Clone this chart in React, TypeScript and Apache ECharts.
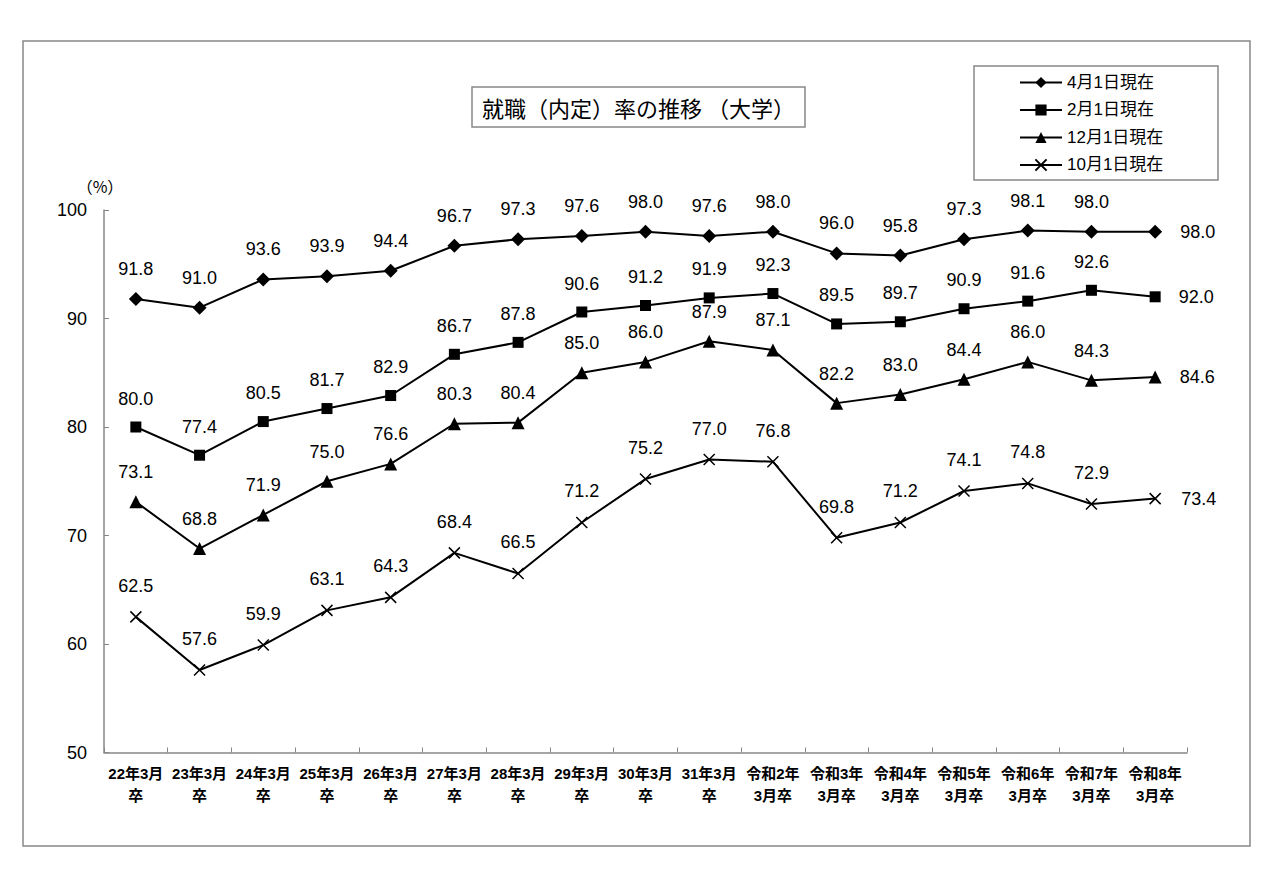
import { useEffect, useRef } from 'react'
import * as echarts from 'echarts'

const categories = [
  '22年3月\n卒', '23年3月\n卒', '24年3月\n卒', '25年3月\n卒', '26年3月\n卒',
  '27年3月\n卒', '28年3月\n卒', '29年3月\n卒', '30年3月\n卒', '31年3月\n卒',
  '令和2年\n3月卒', '令和3年\n3月卒', '令和4年\n3月卒', '令和5年\n3月卒',
  '令和6年\n3月卒', '令和7年\n3月卒', '令和8年\n3月卒'
]

const seriesNames = ['4月1日現在', '2月1日現在', '12月1日現在', '10月1日現在']

const apr1 = [91.8, 91.0, 93.6, 93.9, 94.4, 96.7, 97.3, 97.6, 98.0, 97.6, 98.0, 96.0, 95.8, 97.3, 98.1, 98.0, 98.0]
const feb1 = [80.0, 77.4, 80.5, 81.7, 82.9, 86.7, 87.8, 90.6, 91.2, 91.9, 92.3, 89.5, 89.7, 90.9, 91.6, 92.6, 92.0]
const dec1 = [73.1, 68.8, 71.9, 75.0, 76.6, 80.3, 80.4, 85.0, 86.0, 87.9, 87.1, 82.2, 83.0, 84.4, 86.0, 84.3, 84.6]
const oct1 = [62.5, 57.6, 59.9, 63.1, 64.3, 68.4, 66.5, 71.2, 75.2, 77.0, 76.8, 69.8, 71.2, 74.1, 74.8, 72.9, 73.4]

const yTicks = { min: 50, max: 100, interval: 10 }

const FONT = 'Arial, "Liberation Sans", "Noto Sans CJK JP", sans-serif'
const CROSS = 'path://M0,0L10,10M10,0L0,10'

export default function App() {
  const chartRef = useRef<HTMLDivElement>(null)

  useEffect(() => {
    if (!chartRef.current) return
    document.body.style.margin = '0'
    const chart = echarts.init(chartRef.current, undefined, { renderer: 'svg' })

    // 最終点のラベルは右側に
    const toData = (values: number[]) =>
      values.map((v, i) =>
        i === values.length - 1
          ? { value: v, label: { position: 'right', distance: 18 } }
          : v
      )

    const symbols = [
      { symbol: 'diamond', size: 14 },
      { symbol: 'rect', size: 11 },
      { symbol: 'triangle', size: 13 },
      { symbol: CROSS, size: 11 }
    ]
    const allValues = [apr1, feb1, dec1, oct1]

    const series = seriesNames.map((name, idx) => ({
      name,
      type: 'line',
      data: toData(allValues[idx]),
      symbol: symbols[idx].symbol,
      symbolSize: symbols[idx].size,
      lineStyle: { color: '#000', width: 2 },
      itemStyle:
        idx === 3
          ? { color: 'none', borderColor: '#000', borderWidth: 1.5 }
          : { color: '#000' },
      label: {
        show: true,
        position: 'top',
        distance: 14,
        formatter: (p: any) => Number(p.value).toFixed(1),
        color: '#000',
        fontSize: 18,
        fontFamily: FONT
      }
    }))

    const option: any = {
      animation: false,
      backgroundColor: '#fff',
      textStyle: { fontFamily: FONT },
      grid: { left: 104, top: 210, right: 93, bottom: 136.5 },
      legend: {
        orient: 'vertical',
        left: 1014,
        top: 69,
        itemWidth: 42,
        itemHeight: 14,
        itemGap: 10.5,
        data: seriesNames,
        textStyle: { fontSize: 17, color: '#000', fontFamily: FONT }
      },
      xAxis: {
        type: 'category',
        data: categories,
        boundaryGap: true,
        axisLine: { lineStyle: { color: '#888', width: 1.5 } },
        axisTick: { show: true, inside: true, length: 5, lineStyle: { color: '#888' } },
        axisLabel: {
          interval: 0,
          fontSize: 15,
          fontWeight: 'bold',
          color: '#000',
          lineHeight: 22,
          margin: 10,
          fontFamily: FONT
        }
      },
      yAxis: {
        type: 'value',
        min: yTicks.min,
        max: yTicks.max,
        interval: yTicks.interval,
        axisLine: { show: true, lineStyle: { color: '#888', width: 1.5 } },
        axisTick: { show: true, inside: true, length: 5, lineStyle: { color: '#888' } },
        splitLine: { show: false },
        axisLabel: { fontSize: 18, color: '#000', margin: 17, fontFamily: FONT }
      },
      graphic: [
        {
          type: 'rect',
          shape: { x: 23, y: 41, width: 1227, height: 805 },
          style: { fill: 'none', stroke: '#888', lineWidth: 1.5 },
          silent: true,
          z: -1
        },
        {
          type: 'rect',
          shape: { x: 472, y: 87, width: 333, height: 40 },
          style: { fill: '#fff', stroke: '#888', lineWidth: 1.5 }
        },
        {
          type: 'text',
          x: 638.5,
          y: 107,
          style: {
            text: '就職（内定）率の推移 （大学）',
            fill: '#000',
            font: '22px "Noto Sans CJK JP", sans-serif',
            align: 'center',
            verticalAlign: 'middle'
          }
        },
        {
          type: 'rect',
          shape: { x: 974, y: 66, width: 244, height: 114 },
          style: { fill: '#fff', stroke: '#888', lineWidth: 1.5 },
          z: -1
        },
        {
          type: 'text',
          x: 100,
          y: 186,
          style: {
            text: '（%）',
            fill: '#000',
            font: '16px "Noto Sans CJK JP", sans-serif',
            align: 'center',
            verticalAlign: 'middle'
          }
        }
      ],
      series
    }

    chart.setOption(option)

    return () => {
      chart.dispose()
    }
  }, [])

  return <div ref={chartRef} style={{ width: 1280, height: 889 }} />
}
